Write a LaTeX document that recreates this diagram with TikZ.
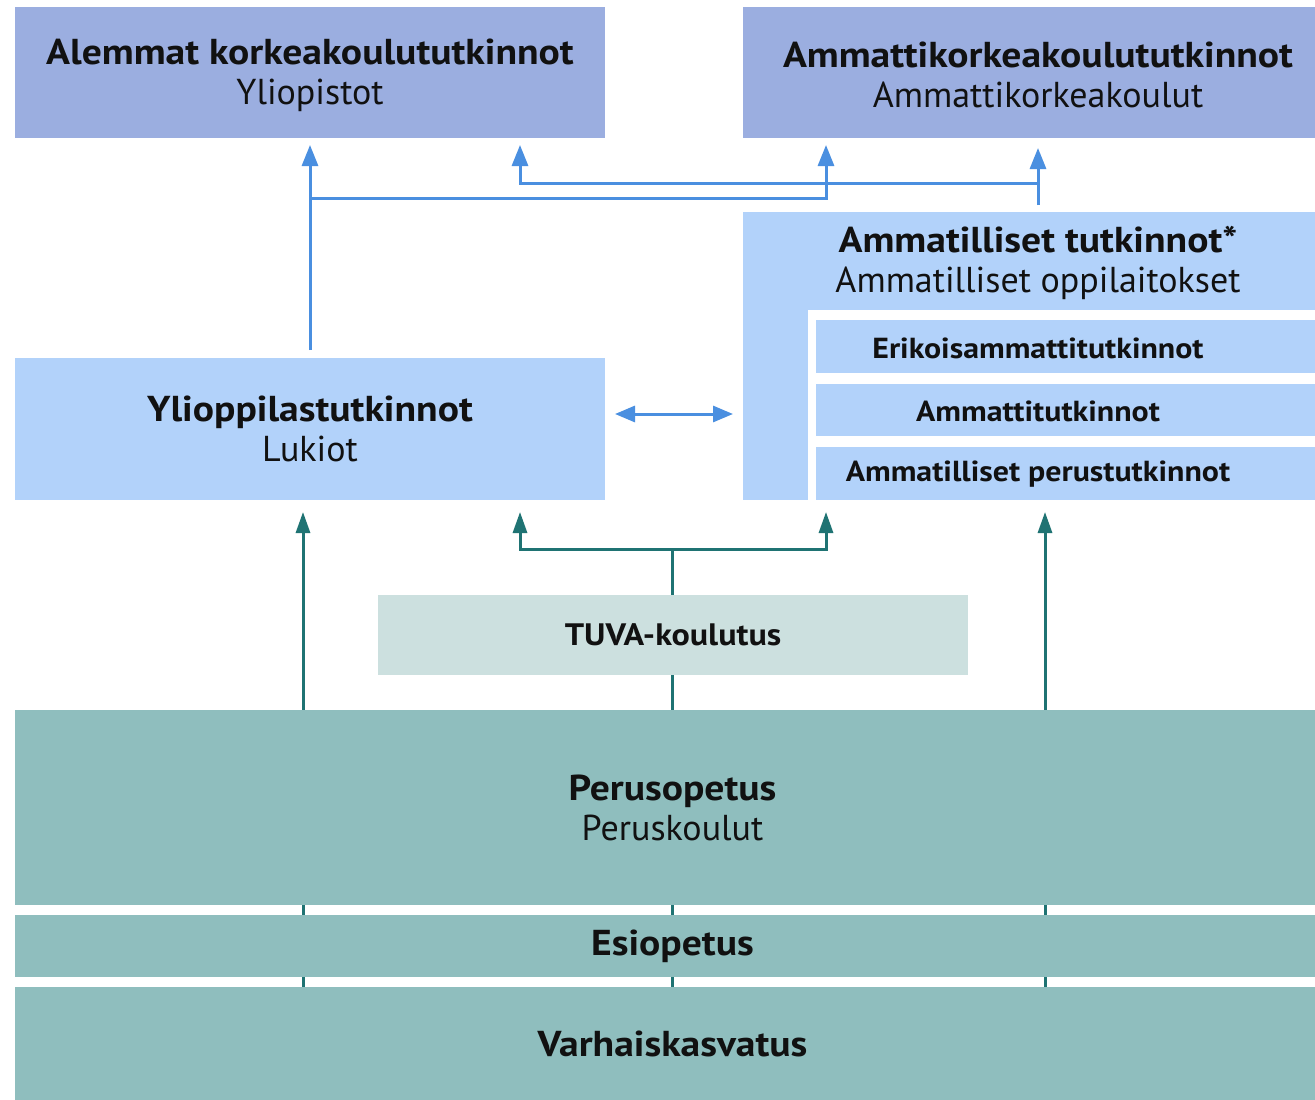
\documentclass[tikz,border=0pt]{standalone}
\usepackage{fontspec}
\setmainfont{PT Sans}[BoldFeatures={FakeStretch=1.1}]
\usetikzlibrary{arrows.meta}
\definecolor{topblue}{HTML}{9BAEE0}
\definecolor{midblue}{HTML}{B2D2FA}
\definecolor{tuvacol}{HTML}{CCE0DF}
\definecolor{tealbox}{HTML}{8FBEBE}
\definecolor{tealline}{HTML}{1F7373}
\definecolor{blueline}{HTML}{4A8FE0}
\definecolor{txt}{HTML}{111111}
\newcommand\hdsize{\fontsize{36}{40}\selectfont}
\newcommand\smsize{\fontsize{29}{32}\selectfont}
\newcommand\tvsize{\fontsize{31}{34}\selectfont}
\begin{document}
\begin{tikzpicture}[x=1pt,y=-1pt,
  boxbase/.style={rectangle,inner sep=0pt,outer sep=0pt,draw=none,text=txt,align=center},
  topbox/.style={boxbase,fill=topblue,minimum width=590pt,minimum height=131pt},
  midbox/.style={boxbase,fill=midblue},
  tealrect/.style={boxbase,fill=tealbox,minimum width=1315pt,font=\hdsize},
  lbl/.style={inner sep=0pt,outer sep=0pt,text=txt,align=center},
  bluearr/.style={draw=blueline,line width=3pt,-{Triangle[length=21pt,width=16pt]}},
  bluedbl/.style={draw=blueline,line width=3pt,{Triangle[length=20pt,width=16pt]}-{Triangle[length=20pt,width=16pt]}},
  tealarr/.style={draw=tealline,line width=3pt,-{Triangle[length=21pt,width=14pt]}},
  tealln/.style={draw=tealline,line width=3pt}]
\useasboundingbox (0,0) rectangle (1315,1100);
\clip (0,0) rectangle (1315,1100);
\fill[white] (0,0) rectangle (1315,1100);

% teal connectors behind the boxes
\coordinate (s1) at (303,1100);
\coordinate (s2) at (672,1100);
\coordinate (s3) at (1045,1100);
\coordinate (jn) at (672,549);
\coordinate (tA) at (520,500);
\coordinate (tB) at (826,500);
\coordinate (t1) at (303,500);
\coordinate (t3) at (1045,500);
\draw[tealarr,shorten >=12pt] (s1) -- (t1);
\draw[tealarr,shorten >=12pt] (s3) -- (t3);
\draw[tealln] (s2) -- (jn);
\draw[tealarr,shorten >=12pt] (jn) -| (tA);
\draw[tealarr,shorten >=12pt] (jn) -| (tB);

% top boxes
\node[topbox] (yo) at (310,72.5) {};
\node[topbox] (amk) at (1038,72.5) {};
\node[lbl,font=\hdsize] (yot) at (310,75) {\textbf{Alemmat korkeakoulututkinnot}\\Yliopistot};
\node[lbl,font=\hdsize] (amkt) at (1038,75) {\textbf{Ammattikorkeakoulututkinnot}\\Ammattikorkeakoulut};

% lukiot
\node[midbox,minimum width=590pt,minimum height=142pt,font=\hdsize] (luk) at (310,429) {\textbf{Ylioppilastutkinnot}\\Lukiot};

% ammatilliset
\node[midbox,minimum width=590pt,minimum height=288pt] (amm) at (1038,356) {};
\node[boxbase,fill=white,minimum width=525pt,minimum height=190pt] (gap) at (1070.5,405) {};
\node[lbl,font=\hdsize] (ammt) at (1038,263) {\textbf{Ammatilliset tutkinnot*}\\Ammatilliset oppilaitokset};
\node[midbox,minimum width=517pt,minimum height=53pt] (eat) at (1074.5,346.5) {};
\node[midbox,minimum width=517pt,minimum height=52pt] (at) at (1074.5,410) {};
\node[midbox,minimum width=517pt,minimum height=53pt] (apt) at (1074.5,473.5) {};
\node[lbl,font=\smsize\bfseries] (eatt) at (1038,348) {Erikoisammattitutkinnot};
\node[lbl,font=\smsize\bfseries] (att) at (1038,411) {Ammattitutkinnot};
\node[lbl,font=\smsize\bfseries] (aptt) at (1038,474) {Ammatilliset perustutkinnot};

% TUVA
\node[boxbase,fill=tuvacol,minimum width=590pt,minimum height=80pt,font=\tvsize\bfseries] (tuva) at (673,635) {TUVA-koulutus};

% bottom bands
\node[tealrect,minimum height=195pt] (perus) at (672.5,807.5) {\textbf{Perusopetus}\\Peruskoulut};
\node[tealrect,minimum height=62pt] (esi) at (672.5,946) {\textbf{Esiopetus}};
\node[tealrect,minimum height=113pt] (varh) at (672.5,1043.5) {\textbf{Varhaiskasvatus}};

% blue connectors
\coordinate (b1) at (310,198);
\coordinate (b2) at (1038,183);
\coordinate (uA) at (826,138);
\coordinate (uB) at (520,138);
\coordinate (d1) at (605,414);
\coordinate (d2) at (743,414);
\draw[bluearr,shorten <=8pt,shorten >=7pt] (luk.north) -- (yo.south);
\draw[bluearr,shorten >=7pt] (b1) -| (uA);
\draw[bluearr,shorten <=7pt,shorten >=10pt] (amm.north) -- (amk.south);
\draw[bluearr,shorten >=7pt] (b2) -| (uB);
\draw[bluedbl,shorten <=10pt,shorten >=10pt] (d1) -- (d2);
\end{tikzpicture}
\end{document}
